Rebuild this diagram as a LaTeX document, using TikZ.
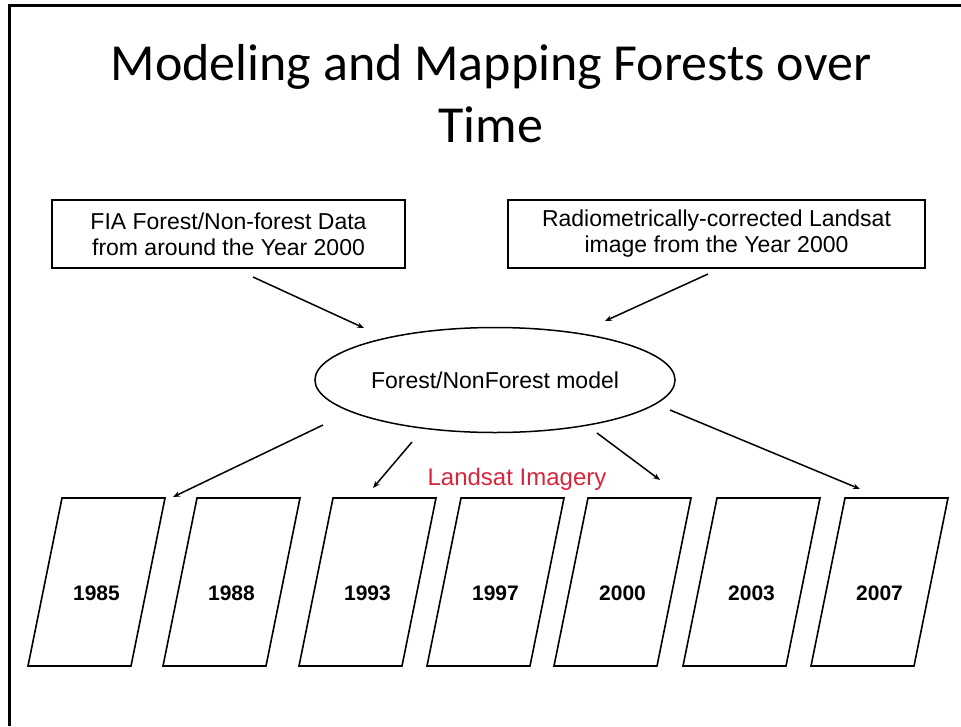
\documentclass[tikz,border=0pt]{standalone}
\usepackage{fontspec}
\setmainfont{Liberation Sans}
\newfontfamily\titlefont{Carlito}
\usetikzlibrary{shapes.geometric, arrows.meta}
\definecolor{imgred}{RGB}{214,38,60}
\tikzset{
  databox/.style={draw, line width=1.6pt, minimum width=353pt, minimum height=68pt,
    inner sep=0pt, align=center, font=\fontsize{23}{26}\selectfont},
  flow/.style={line width=1.5pt, -{Stealth[length=7pt,width=5.5pt]}},
  scene/.style={line width=1.6pt, line join=miter},
  yearlabel/.style={anchor=base, font=\fontsize{21}{21}\selectfont\bfseries}
}

\begin{document}
\begin{tikzpicture}[x=1pt, y=-1pt]
\useasboundingbox (0,0) rectangle (961,726);
\draw[line width=2.2pt] (9.5,726) -- (9.5,5.5) -- (961,5.5);

\node[anchor=base, font=\titlefont\fontsize{52}{52}\selectfont] (title1) at (491,80) {Modeling and Mapping Forests over};
\node[anchor=base, font=\titlefont\fontsize{52}{52}\selectfont] (title2) at (491,142) {Time};

\node[databox] (fia) at (228.5,234) {FIA Forest/Non-forest Data\\from around the Year 2000};
\node[databox, minimum width=417pt] (landsat) at (716.5,234) {Radiometrically-corrected Landsat\\image from the Year 2000};
\node[draw, ellipse, line width=1.5pt, minimum width=345pt, minimum height=105pt,
  font=\fontsize{23}{26}\selectfont] (model) at (495,380) {Forest/NonForest model};
\node[anchor=base, text=imgred, font=\fontsize{24}{24}\selectfont] (imagery) at (517,485) {Landsat Imagery};

% arrow ends
\coordinate (fiaout) at (253,277);   \coordinate (fiain) at (364,328);
\coordinate (satout) at (708,274);   \coordinate (satin) at (605,321);
\coordinate (m1) at (323,425);       \coordinate (t1) at (173,497);
\coordinate (m2) at (412,442);       \coordinate (t2) at (373,488);
\coordinate (m3) at (597,433);       \coordinate (t3) at (660,480);
\coordinate (m4) at (670,410);       \coordinate (t4) at (860,489);

\draw[flow] (fiaout) -- (fiain);
\draw[flow] (satout) -- (satin);
\draw[flow] (m1) -- (t1);
\draw[flow] (m2) -- (t2);
\draw[flow] (m3) -- (t3);
\draw[flow] (m4) -- (t4);

% one slanted frame per scene
\foreach \x/\yr in {62/1985, 197/1988, 333/1993, 461/1997, 588/2000, 717/2003, 845/2007} {
  \draw[scene] (\x,498) -- ++(103,0) -- ++(-34,168) -- ++(-103,0) -- cycle;
  \node[yearlabel] (y\yr) at (\x+34.5,600) {\yr};
}
\end{tikzpicture}
\end{document}
